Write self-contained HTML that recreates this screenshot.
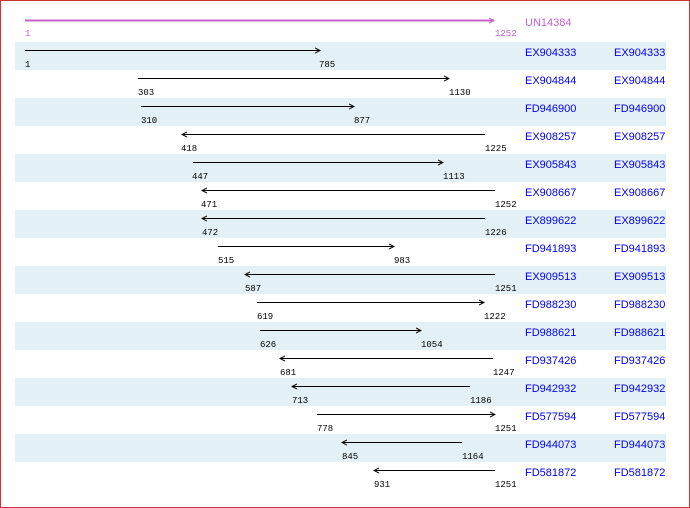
<!DOCTYPE html>
<html><head><style>
html,body{margin:0;padding:0;background:#fff}
svg{display:block}
.n{font-family:"Liberation Mono",monospace;font-size:9px;fill:#000}
.t{font-family:"Liberation Sans",sans-serif;font-size:11px;fill:#0000ee}
</style></head><body>
<svg width="690" height="508" xmlns="http://www.w3.org/2000/svg">
<defs>
<marker id="ar" markerWidth="6" markerHeight="6" refX="5" refY="3" orient="auto" markerUnits="userSpaceOnUse"><path d="M0,0.5 L5,3 L0,5.5" fill="none" stroke="#000" stroke-width="1"/></marker>
<marker id="arv" markerWidth="6" markerHeight="6" refX="5" refY="3" orient="auto" markerUnits="userSpaceOnUse"><path d="M0,0.5 L5,3 L0,5.5" fill="none" stroke="#c462c8" stroke-width="1"/></marker>
</defs>
<rect x="0.5" y="0.5" width="689" height="507" fill="#fff" stroke="#cc3333" stroke-width="1"/>
<g fill="#e3f1f6">
<rect x="15" y="42" width="651" height="28"/><rect x="15" y="98" width="651" height="28"/><rect x="15" y="154" width="651" height="28"/><rect x="15" y="210" width="651" height="28"/><rect x="15" y="266" width="651" height="28"/><rect x="15" y="322" width="651" height="28"/><rect x="15" y="378" width="651" height="28"/><rect x="15" y="434" width="651" height="28"/>
</g>
<line x1="25" y1="20.5" x2="494" y2="20.5" stroke="#c462c8" stroke-width="2" marker-end="url(#arv)"/>
<text x="25" y="36" class="n" style="fill:#c462c8">1</text>
<text x="495" y="36" class="n" style="fill:#c462c8">1252</text>
<text x="525" y="26" class="t" style="fill:#c462c8">UN14384</text>
<g stroke="#000" stroke-width="1">
<line x1="25" y1="50.5" x2="320" y2="50.5" marker-end="url(#ar)"/>
<line x1="138" y1="78.5" x2="449" y2="78.5" marker-end="url(#ar)"/>
<line x1="141" y1="106.5" x2="354" y2="106.5" marker-end="url(#ar)"/>
<line x1="485" y1="134.5" x2="182" y2="134.5" marker-end="url(#ar)"/>
<line x1="193" y1="162.5" x2="443" y2="162.5" marker-end="url(#ar)"/>
<line x1="495" y1="190.5" x2="202" y2="190.5" marker-end="url(#ar)"/>
<line x1="485" y1="218.5" x2="202" y2="218.5" marker-end="url(#ar)"/>
<line x1="218" y1="246.5" x2="394" y2="246.5" marker-end="url(#ar)"/>
<line x1="495" y1="274.5" x2="245" y2="274.5" marker-end="url(#ar)"/>
<line x1="257" y1="302.5" x2="484" y2="302.5" marker-end="url(#ar)"/>
<line x1="260" y1="330.5" x2="421" y2="330.5" marker-end="url(#ar)"/>
<line x1="493" y1="358.5" x2="280" y2="358.5" marker-end="url(#ar)"/>
<line x1="470" y1="386.5" x2="292" y2="386.5" marker-end="url(#ar)"/>
<line x1="317" y1="414.5" x2="495" y2="414.5" marker-end="url(#ar)"/>
<line x1="462" y1="442.5" x2="342" y2="442.5" marker-end="url(#ar)"/>
<line x1="495" y1="470.5" x2="374" y2="470.5" marker-end="url(#ar)"/>
</g>
<g class="n">
<text x="25" y="67" class="n">1</text><text x="319" y="67" class="n">785</text>
<text x="138" y="95" class="n">303</text><text x="449" y="95" class="n">1130</text>
<text x="141" y="123" class="n">310</text><text x="354" y="123" class="n">877</text>
<text x="181" y="151" class="n">418</text><text x="485" y="151" class="n">1225</text>
<text x="192" y="179" class="n">447</text><text x="443" y="179" class="n">1113</text>
<text x="201" y="207" class="n">471</text><text x="495" y="207" class="n">1252</text>
<text x="202" y="235" class="n">472</text><text x="485" y="235" class="n">1226</text>
<text x="218" y="263" class="n">515</text><text x="394" y="263" class="n">983</text>
<text x="245" y="291" class="n">587</text><text x="495" y="291" class="n">1251</text>
<text x="257" y="319" class="n">619</text><text x="484" y="319" class="n">1222</text>
<text x="260" y="347" class="n">626</text><text x="421" y="347" class="n">1054</text>
<text x="280" y="375" class="n">681</text><text x="493" y="375" class="n">1247</text>
<text x="292" y="403" class="n">713</text><text x="470" y="403" class="n">1186</text>
<text x="317" y="431" class="n">778</text><text x="495" y="431" class="n">1251</text>
<text x="342" y="459" class="n">845</text><text x="462" y="459" class="n">1164</text>
<text x="374" y="487" class="n">931</text><text x="495" y="487" class="n">1251</text>
</g>
<g class="t">
<text x="525" y="56" class="t">EX904333</text><text x="614" y="56" class="t">EX904333</text>
<text x="525" y="84" class="t">EX904844</text><text x="614" y="84" class="t">EX904844</text>
<text x="525" y="112" class="t">FD946900</text><text x="614" y="112" class="t">FD946900</text>
<text x="525" y="140" class="t">EX908257</text><text x="614" y="140" class="t">EX908257</text>
<text x="525" y="168" class="t">EX905843</text><text x="614" y="168" class="t">EX905843</text>
<text x="525" y="196" class="t">EX908667</text><text x="614" y="196" class="t">EX908667</text>
<text x="525" y="224" class="t">EX899622</text><text x="614" y="224" class="t">EX899622</text>
<text x="525" y="252" class="t">FD941893</text><text x="614" y="252" class="t">FD941893</text>
<text x="525" y="280" class="t">EX909513</text><text x="614" y="280" class="t">EX909513</text>
<text x="525" y="308" class="t">FD988230</text><text x="614" y="308" class="t">FD988230</text>
<text x="525" y="336" class="t">FD988621</text><text x="614" y="336" class="t">FD988621</text>
<text x="525" y="364" class="t">FD937426</text><text x="614" y="364" class="t">FD937426</text>
<text x="525" y="392" class="t">FD942932</text><text x="614" y="392" class="t">FD942932</text>
<text x="525" y="420" class="t">FD577594</text><text x="614" y="420" class="t">FD577594</text>
<text x="525" y="448" class="t">FD944073</text><text x="614" y="448" class="t">FD944073</text>
<text x="525" y="476" class="t">FD581872</text><text x="614" y="476" class="t">FD581872</text>
</g>
</svg>
</body></html>
